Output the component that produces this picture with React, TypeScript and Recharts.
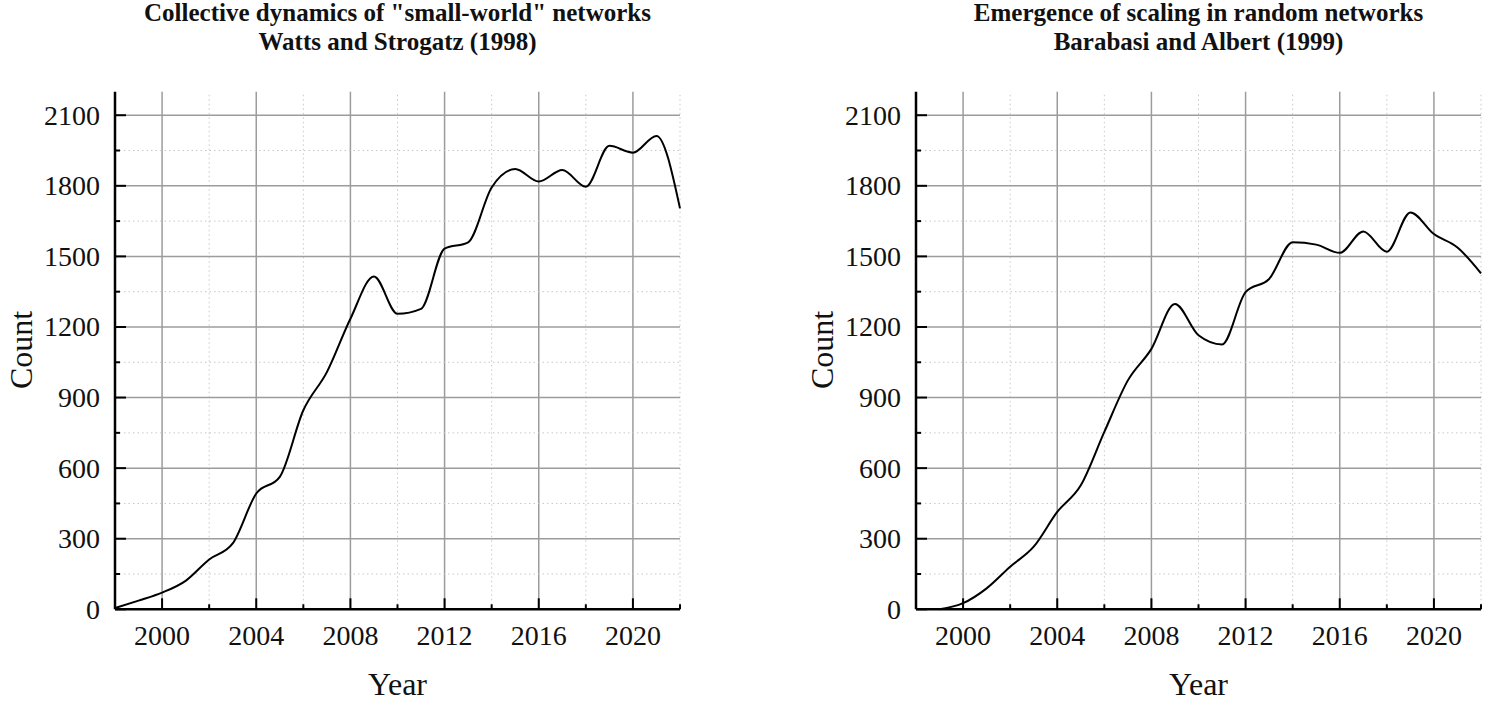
import React from "react";
import { LineChart, Line, XAxis, YAxis, ReferenceLine } from "recharts";

// Watts & Strogatz (1998) citations per year
const wsYears = [1998, 1999, 2000, 2001, 2002, 2003, 2004, 2005, 2006, 2007, 2008, 2009, 2010, 2011, 2012, 2013, 2014, 2015, 2016, 2017, 2018, 2019, 2020, 2021, 2022];
const wsCounts = [5, 37, 71, 121, 212, 280, 492, 563, 846, 1008, 1235, 1415, 1256, 1277, 1533, 1560, 1793, 1871, 1818, 1867, 1796, 1970, 1941, 2012, 1704];

// Barabasi & Albert (1999) citations per year
const baYears = [1999, 2000, 2001, 2002, 2003, 2004, 2005, 2006, 2007, 2008, 2009, 2010, 2011, 2012, 2013, 2014, 2015, 2016, 2017, 2018, 2019, 2020, 2021, 2022];
const baCounts = [0, 26, 89, 181, 266, 414, 527, 754, 973, 1107, 1298, 1165, 1126, 1348, 1404, 1560, 1550, 1515, 1606, 1520, 1687, 1595, 1538, 1428];

const xTicks = [2000, 2002, 2004, 2006, 2008, 2010, 2012, 2014, 2016, 2018, 2020, 2022];
const yTicks = [0, 150, 300, 450, 600, 750, 900, 1050, 1200, 1350, 1500, 1650, 1800, 1950, 2100];

const FONT = '"Liberation Serif", "Times New Roman", serif';
const MAJOR = "#9c9c9c";
const MINOR = "#c8c8c8";

const XTick = (props: any) => {
  const { x, y, payload } = props;
  const major = payload.value % 4 === 0;
  return (
    <g>
      <line x1={x} y1={y} x2={x} y2={y - (major ? 11 : 5)} stroke="#000" strokeWidth={2} />
      {major && payload.value < 2022 && (
        <text x={x} y={y + 36} textAnchor="middle" fontFamily={FONT} fontSize={28} fill="#111">
          {payload.value}
        </text>
      )}
    </g>
  );
};

const YTick = (props: any) => {
  const { x, y, payload } = props;
  const major = payload.value % 300 === 0;
  return (
    <g>
      <line x1={x} y1={y} x2={x + (major ? 11 : 5)} y2={y} stroke="#000" strokeWidth={2} />
      {major && (
        <text x={x - 15} y={y} dy="0.34em" textAnchor="end" fontFamily={FONT} fontSize={28} fill="#111">
          {payload.value}
        </text>
      )}
    </g>
  );
};

function Panel({
  years,
  counts,
  left,
  width,
  titles,
}: {
  years: number[];
  counts: number[];
  left: number;
  width: number;
  titles: string[];
}) {
  const data = years.map((year, i) => ({ year, count: counts[i] }));
  const rightMargin = width === 700 ? 20 : 8;
  const plotLeft = left + 115;
  const plotRight = left + width - rightMargin;
  const center = (plotLeft + plotRight) / 2;
  return (
    <>
      <div
        style={{
          position: "absolute",
          left: center - 350,
          width: 700,
          top: -2,
          textAlign: "center",
          fontFamily: FONT,
          fontWeight: "bold",
          fontSize: 25,
          lineHeight: "29px",
          color: "#111",
        }}
      >
        {titles.map((t) => (
          <div key={t}>{t}</div>
        ))}
      </div>
      <div
        style={{
          position: "absolute",
          left: center - 100,
          width: 200,
          top: 668,
          textAlign: "center",
          fontFamily: FONT,
          fontSize: 32,
          lineHeight: "32px",
          color: "#111",
        }}
      >
        Year
      </div>
      <div
        style={{
          position: "absolute",
          left: left + 21,
          top: 350,
          transform: "translate(-50%, -50%) rotate(-90deg)",
          fontFamily: FONT,
          fontSize: 32,
          lineHeight: "32px",
          color: "#111",
          whiteSpace: "nowrap",
        }}
      >
        Count
      </div>
      <div style={{ position: "absolute", left, top: 0 }}>
        <LineChart
          width={width}
          height={704}
          data={data}
          margin={{ top: 91.7, right: rightMargin, bottom: 0, left: 0 }}
        >
          {xTicks.map((v) => (
            <ReferenceLine
              key={"x" + v}
              x={v}
              stroke={v % 4 === 0 ? MAJOR : MINOR}
              strokeWidth={v % 4 === 0 ? 1.5 : 1}
              strokeDasharray={v % 4 === 0 ? undefined : "1.5 3"}
            />
          ))}
          {yTicks.map((v) =>
            v === 0 ? null : (
              <ReferenceLine
                key={"y" + v}
                y={v}
                stroke={v % 300 === 0 ? MAJOR : MINOR}
                strokeWidth={v % 300 === 0 ? 1.5 : 1}
                strokeDasharray={v % 300 === 0 ? undefined : "1.5 3"}
              />
            )
          )}
          <XAxis
            dataKey="year"
            type="number"
            domain={[1998, 2022]}
            ticks={xTicks}
            interval={0}
            height={94.7}
            tickSize={0}
            tickMargin={0}
            tickLine={false}
            axisLine={{ stroke: "#000", strokeWidth: 2.5 }}
            tick={<XTick />}
          />
          <YAxis
            type="number"
            domain={[0, 2200]}
            ticks={yTicks}
            interval={0}
            width={115}
            tickSize={0}
            tickMargin={0}
            tickLine={false}
            axisLine={{ stroke: "#000", strokeWidth: 2.5 }}
            tick={<YTick />}
          />
          <Line
            dataKey="count"
            type="monotone"
            stroke="#000"
            strokeWidth={2}
            dot={false}
            isAnimationActive={false}
          />
        </LineChart>
      </div>
    </>
  );
}

export default function App() {
  return (
    <div
      style={{
        position: "absolute",
        left: 0,
        top: 0,
        width: 1489,
        height: 704,
        background: "#fff",
        overflow: "hidden",
      }}
    >
      <Panel
        years={wsYears}
        counts={wsCounts}
        left={0}
        width={700}
        titles={['Collective dynamics of "small-world" networks', "Watts and Strogatz (1998)"]}
      />
      <Panel
        years={baYears}
        counts={baCounts}
        left={801}
        width={688}
        titles={["Emergence of scaling in random networks", "Barabasi and Albert (1999)"]}
      />
    </div>
  );
}
